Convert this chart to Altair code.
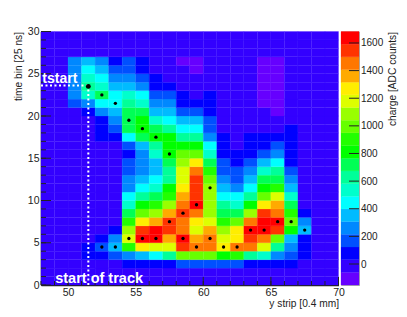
import altair as alt
import pandas as pd

# charge band per cell (0 = lowest colour band, 19 = highest), rows are time bins 0..29, columns y strips 48..69
row00 = [1]*22
row01 = [1]*22
row02 = [1,1,1,1,1,1,2,2,2,2,3,3,3,3,3,2,2,2,2,1,1,1]
row03 = [1,1,1,2,2,3,4,5,6,8,12,12,12,10,11,8,7,4,3,2,1,1]
row04 = [1,1,1,2,3,5,11,15,14,14,18,17,17,15,17,17,14,8,4,2,1,1]
row05 = [1,1,1,1,2,4,14,19,19,16,19,16,17,14,15,18,17,12,5,2,1,1]
row06 = [1,1,1,1,1,2,13,18,19,18,17,14,16,13,15,19,19,18,10,5,1,1]
row07 = [1,1,1,1,1,1,11,15,16,18,17,15,14,11,12,17,19,19,12,4,1,1]
row08 = [1,1,1,1,1,1,9,12,13,16,18,17,13,9,9,13,18,17,11,2,1,1]
row09 = [1,1,1,1,1,1,7,10,11,13,17,19,13,8,7,10,15,16,9,1,1,1]
row10 = [1,1,1,1,1,1,6,8,9,11,16,18,13,6,6,8,12,14,7,1,1,1]
row11 = [1,1,1,1,1,1,4,6,7,10,15,18,13,5,4,6,10,11,5,1,1,1]
row12 = [1,1,1,1,1,1,4,5,6,8,14,18,12,4,3,5,9,9,4,1,1,1]
row13 = [1,1,1,1,1,1,3,4,5,8,14,17,11,3,3,4,7,8,3,1,1,1]
row14 = [1,1,1,1,1,1,3,4,5,9,13,15,9,3,2,3,5,6,2,1,1,1]
row15 = [1,1,1,1,1,1,2,4,7,10,12,12,7,2,2,2,3,4,2,1,1,1]
row16 = [1,1,1,1,1,1,3,5,8,10,10,10,6,2,1,2,2,3,2,1,1,1]
row17 = [1,1,1,1,2,2,6,9,10,10,8,8,4,2,1,2,2,2,2,1,1,1]
row18 = [1,1,1,1,2,3,9,10,9,8,6,6,3,1,1,1,1,1,2,1,1,1]
row19 = [1,1,1,1,2,4,9,10,7,6,5,5,3,1,1,1,1,1,1,1,1,1]
row20 = [1,1,1,2,4,5,9,9,5,5,3,3,2,1,1,1,1,0,1,1,1,1]
row21 = [1,1,3,4,6,6,8,7,4,4,2,2,2,1,1,1,0,0,1,1,1,1]
row22 = [1,1,4,7,9,6,7,6,3,3,2,1,2,1,1,1,0,0,1,1,1,1]
row23 = [1,1,4,8,7,5,5,4,2,2,1,1,1,1,1,1,0,0,1,1,1,1]
row24 = [1,1,4,7,6,4,4,3,2,1,1,1,1,1,1,1,0,0,1,1,1,1]
row25 = [1,1,4,6,5,3,3,2,1,1,1,0,1,1,1,1,0,0,1,1,1,1]
row26 = [1,1,4,5,4,2,3,2,1,1,0,0,1,1,1,1,0,0,1,1,1,1]
row27 = [1]*22
row28 = [1]*22
row29 = [1]*22
rows = [row00,row01,row02,row03,row04,row05,row06,row07,row08,row09,
        row10,row11,row12,row13,row14,row15,row16,row17,row18,row19,
        row20,row21,row22,row23,row24,row25,row26,row27,row28,row29]

palette = ["#6600ff","#3300ff","#0000ff","#0050ff","#0088ff","#00bbff","#00ffff","#00ffcc","#00ff99","#00ff55",
           "#00ff00","#22ff00","#66ff00","#99ff00","#ddff00","#ffee00","#ffaa00","#ff7700","#ff3300","#ff0000"]
charge_min = -152.0
charge_max = 1683.0
step = (charge_max - charge_min) / 20
edges = [charge_min + step * i for i in range(21)]

hit_x = [51.5,52.5,53.5,54.5,55.5,56.5,57.5,60.5,59.5,58.5,57.5,54.5,55.5,56.5,58.5,60.5,59.5,52.5,53.5,
         65.5,66.5,63.5,64.5,67.5,61.5,62.5]
hit_y = [23.5,22.5,21.5,19.5,18.5,17.5,15.5,11.5,9.5,8.5,7.5,5.5,5.5,5.5,5.5,5.5,4.5,4.5,4.5,
         7.5,7.5,6.5,6.5,6.5,4.5,4.5]

cells = pd.DataFrame([
    {"x0": 48 + c, "x1": 49 + c, "y0": r, "y1": r + 1, "q": edges[b] + step / 2}
    for r, row in enumerate(rows) for c, b in enumerate(row)
])
bands = pd.DataFrame([{"y0": edges[i], "y1": edges[i + 1], "q": edges[i] + step / 2} for i in range(20)])

W, H = 297.5, 253.5
FONT = "Liberation Sans"
INK = "#222222"
xs = alt.Scale(domain=[48, 70], nice=False, zero=False)
ys = alt.Scale(domain=[0, 30], nice=False, zero=False)
cs = alt.Scale(type="threshold", domain=edges[1:-1], range=palette)
qs = alt.Scale(domain=[charge_min, charge_max], nice=False, zero=False)
X_TITLE = "y strip [0.4 mm]"
Y_TITLE = "time bin [25 ns]"
Q_TITLE = "charge [ADC counts]"

AXX = alt.Axis(values=[50,55,60,65,70], tickSize=0, grid=False, domainColor=INK, domainWidth=1.5,
               labelPadding=2, labelFontSize=10.5, labelFont=FONT, labelColor=INK, labelFlush=False,
               titleFont=FONT, titleFontSize=10.2, titleFontWeight="normal", titleColor=INK,
               titleAnchor="end", titlePadding=1, format="d")
AXY = alt.Axis(values=[0,5,10,15,20,25,30], tickSize=0, grid=False, domainColor=INK, domainWidth=1.5,
               labelPadding=2, labelFontSize=10.5, labelFont=FONT, labelColor=INK, titleFont=FONT,
               titleFontSize=10.2, titleFontWeight="normal", titleColor=INK, titleAnchor="end",
               titlePadding=4, format="d")
AXQ = alt.Axis(orient="right", values=[0,200,400,600,800,1000,1200,1400,1600], tickSize=0, grid=False,
               domainColor="#aaaaaa", labelPadding=1.5, labelFontSize=10, labelFont=FONT, labelColor=INK,
               titleFont=FONT, titleFontSize=10.2, titleFontWeight="normal", titleColor=INK,
               titleAnchor="end", titleAngle=270, titleBaseline="top", titlePadding=5, format="d")

def X(f):
    return alt.X(f, scale=xs, axis=AXX, title=X_TITLE)

def Y(f):
    return alt.Y(f, scale=ys, axis=AXY, title=Y_TITLE)

heat = alt.Chart(cells).mark_rect(strokeWidth=0.25).encode(
    x=X("x0:Q"), x2="x1:Q", y=Y("y0:Q"), y2="y1:Q",
    color=alt.Color("q:Q", scale=cs, legend=None),
    stroke=alt.Color("q:Q", scale=cs, legend=None),
)

def xticks(vals, length):
    return alt.Chart(pd.DataFrame({"t": vals})).mark_rule(color=INK, strokeWidth=1).encode(
        x=X("t:Q"), y=alt.value(H), y2=alt.value(H - length))

def yticks(vals, length):
    return alt.Chart(pd.DataFrame({"t": vals})).mark_rule(color=INK, strokeWidth=1).encode(
        y=Y("t:Q"), x=alt.value(0), x2=alt.value(length))

guide_h = alt.Chart(pd.DataFrame({"a": [48], "b": [51.5], "t": [23.6]})).mark_rule(
    color="white", strokeWidth=2, strokeDash=[2, 2.5]).encode(x=X("a:Q"), x2="b:Q", y=Y("t:Q"))
guide_v = alt.Chart(pd.DataFrame({"a": [0], "b": [23.6], "t": [51.5]})).mark_rule(
    color="white", strokeWidth=2, strokeDash=[2, 2.5]).encode(y=Y("a:Q"), y2="b:Q", x=X("t:Q"))

hits = alt.Chart(pd.DataFrame({"x": hit_x, "y": hit_y})).mark_point(
    filled=True, color="black", opacity=1, size=11).encode(x=X("x:Q"), y=Y("y:Q"))
first_hit = alt.Chart(pd.DataFrame({"x": hit_x[:1], "y": hit_y[:1]})).mark_point(
    filled=True, color="black", opacity=1, size=24).encode(x=X("x:Q"), y=Y("y:Q"))

notes = pd.DataFrame({"x": [48.1, 49.05], "y": [23.95, 0.25], "s": [14.0, 14.5], "t": ["tstart", "start of track"]})
labels = alt.layer(*[
    alt.Chart(notes.iloc[[i]]).mark_text(align="left", baseline="alphabetic", color="white", font=FONT,
                                         fontWeight="bold", fontSize=float(notes.s[i])).encode(
        x=X("x:Q"), y=Y("y:Q"), text="t:N")
    for i in range(2)
])

main = alt.layer(heat, xticks(list(range(48, 71)), 4), xticks([50,55,60,65,70], 8),
                 yticks(list(range(0, 31)), 5), yticks([0,5,10,15,20,25,30], 10),
                 guide_h, guide_v, hits, first_hit, labels).properties(width=W, height=H)

bar_ticks = [0,200,400,600,800,1000,1200,1400,1600]
bar = alt.Chart(bands).mark_rect(strokeWidth=0.25).encode(
    y=alt.Y("y0:Q", scale=qs, axis=AXQ, title=Q_TITLE),
    y2="y1:Q",
    color=alt.Color("q:Q", scale=cs, legend=None),
    stroke=alt.Color("q:Q", scale=cs, legend=None),
)
bar_t = alt.Chart(pd.DataFrame({"t": bar_ticks})).mark_rule(color=INK, strokeWidth=1).encode(
    y=alt.Y("t:Q", scale=qs, axis=AXQ, title=Q_TITLE), x=alt.value(18), x2=alt.value(8))
colorbar = alt.layer(bar, bar_t).properties(width=18, height=H, view=alt.ViewConfig(stroke="#aaaaaa"))

chart = alt.hconcat(main, colorbar, spacing=2, bounds="flush").resolve_scale(
    color="independent", y="independent", x="independent"
).configure_view(stroke=None).properties(
    padding={"left": 5, "top": 18.5, "right": 0, "bottom": 0}, background="white")

chart.save("out.html", embed_options={"renderer": "svg", "actions": False})
